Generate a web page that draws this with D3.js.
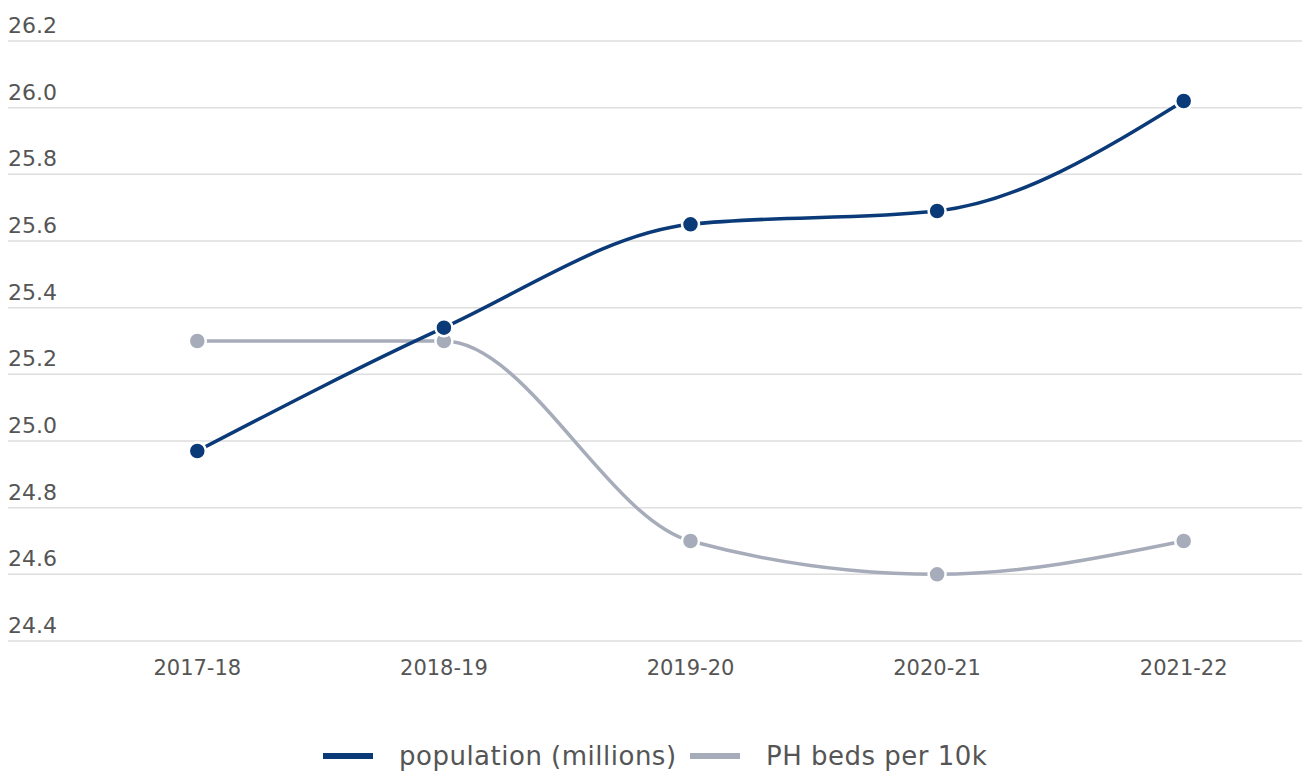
<!DOCTYPE html>
<html>
<head>
<meta charset="utf-8">
<script src="https://cdn.jsdelivr.net/npm/d3@7"></script>
<style>
  body { margin: 0; background: #fff; }
  svg { display: block; font-family: "DejaVu Sans", sans-serif; }
</style>
</head>
<body>
<svg id="chart"></svg>
<script>
let years = ['2017-18', '2018-19', '2019-20', '2020-21', '2021-22'];
let population = [24.97, 25.34, 25.65, 25.69, 26.02];
let phBeds = [25.3, 25.3, 24.7, 24.6, 24.7];
let yTicks = [24.4, 24.6, 24.8, 25.0, 25.2, 25.4, 25.6, 25.8, 26.0, 26.2];
let seriesNames = ['population (millions)', 'PH beds per 10k'];
let seriesColors = ['#0b3a78', '#a6acb9'];

let width = 1302,
    height = 771;

let svg = d3.select('#chart')
            .attr('width', width)
            .attr('height', height);

let x = d3.scaleBand()
          .domain(years)
          .range([74, 1307]);

let y = d3.scaleLinear()
          .domain([24.4, 26.2])
          .range([641, 41]);

// grid + y labels
let grid = svg.append('g');
grid.selectAll('line')
    .data(yTicks)
    .enter()
    .append('line')
      .attr('x1', 8)
      .attr('x2', width)
      .attr('y1', d => y(d))
      .attr('y2', d => y(d))
      .attr('stroke', '#dedede')
      .attr('stroke-width', 1.5);

grid.selectAll('text')
    .data(yTicks)
    .enter()
    .append('text')
      .attr('x', 8)
      .attr('y', d => y(d) - 8)
      .attr('fill', '#555')
      .attr('font-size', 22)
      .text(d => d.toFixed(1));

// x labels
svg.append('g')
    .selectAll('text')
    .data(years)
    .enter()
    .append('text')
      .attr('x', d => x(d) + x.bandwidth() / 2)
      .attr('y', 675)
      .attr('text-anchor', 'middle')
      .attr('fill', '#555')
      .attr('font-size', 21)
      .text(d => d);

let line = d3.line()
             .x((d, i) => x(years[i]) + x.bandwidth() / 2)
             .y(d => y(d))
             .curve(d3.curveMonotoneX);

[phBeds, population].forEach((series, k) => {
  let color = seriesColors[1 - k];
  let g = svg.append('g');

  g.append('path')
    .datum(series)
    .attr('d', line)
    .attr('fill', 'none')
    .attr('stroke', color)
    .attr('stroke-width', 3.5);

  g.selectAll('circle')
    .data(series)
    .enter()
    .append('circle')
      .attr('cx', (d, i) => x(years[i]) + x.bandwidth() / 2)
      .attr('cy', d => y(d))
      .attr('r', 8.5)
      .attr('fill', color)
      .attr('stroke', '#fff')
      .attr('stroke-width', 2.5);
});

// legend
let legend = svg.append('g');
let legendX = [323, 690];
seriesNames.forEach((name, i) => {
  legend.append('rect')
    .attr('x', legendX[i])
    .attr('y', 753)
    .attr('width', 50)
    .attr('height', 6)
    .attr('fill', seriesColors[i]);
  legend.append('text')
    .attr('x', legendX[i] + 76)
    .attr('y', 765)
    .attr('fill', '#555')
    .attr('font-size', 26)
    .attr('letter-spacing', 0.5)
    .text(name);
});
</script>
</body>
</html>
